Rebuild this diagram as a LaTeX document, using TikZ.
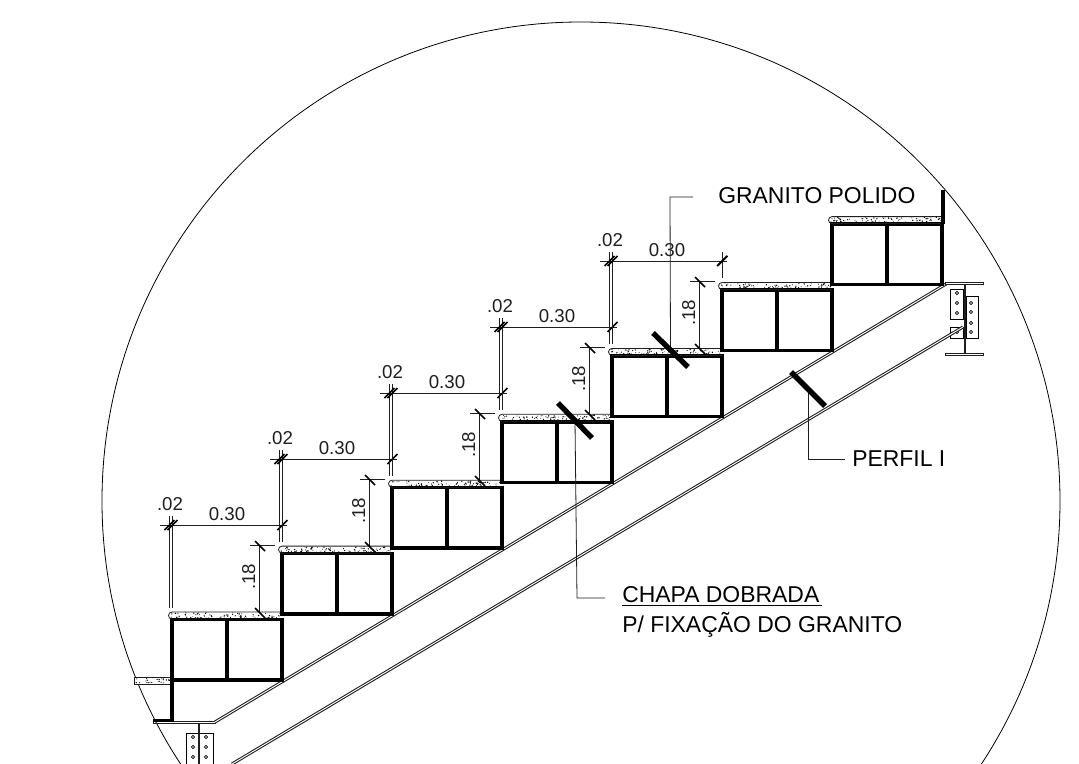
\documentclass[tikz,border=0pt]{standalone}
\usepackage{fontspec}
\usetikzlibrary{calc}
\setmainfont{Liberation Sans}
\definecolor{thinink}{gray}{0.12}
\tikzset{
  heavy/.style={line width=2.6pt,black},
  thinl/.style={line width=0.6pt,thinink},
  stringer/.style={line width=0.8pt,thinink,double=white,double distance=0.7pt},
  tick/.style={line width=1.1pt,black},
  slash/.style={line width=4pt,black},
  lbl/.style={font=\fontsize{17.2pt}{20pt}\selectfont,text=black,inner sep=0pt},
  dimlbl/.style={font=\fontsize{14pt}{16pt}\selectfont,text=thinink,inner sep=0pt},
  plate/.style={line width=0.7pt,black,fill=white},
  hole/.style={line width=0.5pt,black,fill=white}
}
\pgfmathsetseed{4711}
\begin{document}
\begin{tikzpicture}[x=0.75pt,y=-0.75pt]
\useasboundingbox (0,0) rectangle (1079,764);
\clip (0,0) rectangle (1079,764);
\fill[white] (0,0) rectangle (1079,764);

% detail circle
\coordinate (cc) at (581,501);
\draw[line width=0.6pt,black] (cc) circle [radius=479];

% stringer of the flight
\coordinate (ua) at (215,722);
\coordinate (ub) at (946,284);
\coordinate (la) at (232,764);
\coordinate (lb) at (963,327);

% lower I beam
\draw[plate] (186,733) rectangle (213,770);
\draw[thinl,line width=0.9pt] (199,723) -- (199,770);
\foreach \y in {737,747,757}{
  \draw[hole] (193,\y) circle [radius=1.6];
  \draw[hole] (206,\y) circle [radius=1.6];
}
\draw[thinl,line width=0.6pt] (153,721) rectangle (215,723);
\draw[stringer] (ua) -- (ub);

% upper I beam
\draw[plate] (950,289) rectangle (963,319);
\draw[plate] (950,327) rectangle (963,338);
\draw[plate] (966,296) rectangle (978,338);
\foreach \y in {293,303,313,332}{\draw[hole] (957,\y) circle [radius=1.6];}
\foreach \y in {303,312,323,332}{\draw[hole] (971,\y) circle [radius=1.6];}
\draw[stringer] (la) -- (lb);
\draw[thinl,line width=0.9pt] (965,284) -- (965,354);
\draw[thinl,fill=white] (945,282.5) rectangle (983,284.5);
\draw[thinl,fill=white] (945,353.5) rectangle (983,355.5);

% landing piece at the lower left
\draw[thinl,fill=white] (134,677.5) rectangle (172,684.5);
\foreach \i in {1,...,26}{
  \pgfmathsetmacro{\px}{136+rnd*34}
  \pgfmathsetmacro{\py}{678.5+rnd*4.5}
  \fill[black] (\px,\py) circle [radius=0.6];
}
\draw[heavy] (172,680) -- (172,721);
\draw[heavy] (153,720.5) -- (173,720.5);

% steps
\foreach \k in {0,...,6}{
  \pgfmathsetmacro{\xl}{172+110*\k}
  \pgfmathsetmacro{\xr}{\xl+110}
  \pgfmathsetmacro{\xm}{\xl+55}
  \pgfmathsetmacro{\yt}{619.5-65.9*\k}
  \pgfmathsetmacro{\yb}{\yt+60.5}
  \pgfmathsetmacro{\gt}{\yt-7.5}
  \pgfmathsetmacro{\gb}{\yt-0.5}
  \draw[heavy,line join=miter] (\xl,\yb) -- (\xl,\yt) -- (\xr,\yt) -- (\xr,\yb) -- cycle;
  \draw[heavy] (\xm,\yt) -- (\xm,\yb);
  \draw[thinl] (\xr,\gt) -- (\xl,\gt) arc[start angle=-90,end angle=-270,radius=3.5] -- (\xr,\gb);
  \foreach \i in {1,...,85}{
    \pgfmathsetmacro{\px}{\xl-1+rnd*110}
    \pgfmathsetmacro{\py}{\gt+0.8+rnd*5.4}
    \pgfmathsetmacro{\pr}{0.35+rnd*0.45}
    \fill[black] (\px,\py) circle [radius=\pr];
  }
}
\draw[heavy] (943,224) -- (943,190);

% dimensions, one set for each of the five lower steps
\foreach \k in {0,...,4}{
  \begin{scope}[shift={(110*\k,-66*\k)}]
    \draw[thinl] (169,516) -- (169,608);
    \draw[thinl] (172,516) -- (172,608);
    \draw[thinl] (160,525) -- (287,525);
    \draw[tick] (164.5,530) -- (174.5,520);
    \draw[tick] (167.5,530) -- (177.5,520);
    \draw[tick] (277.5,530) -- (287.5,520);
    \draw[thinl] (250,545) -- (275,545);
    \draw[thinl] (259.5,545) -- (259.5,612);
    \draw[tick] (255,541) -- (265,551);
    \draw[tick] (255,608) -- (265,618);
  \end{scope}
  \node[dimlbl,anchor=base] (dz\k) at (170+110*\k,510-66*\k) {.02};
  \node[dimlbl,anchor=base] (dt\k) at (227+110*\k,520-66*\k) {0.30};
  \node[dimlbl,anchor=base,rotate=90] (dh\k) at (255+110*\k,577-66*\k) {.18};
}
\draw[thinl] (722,252) -- (722,278);
\draw[tick] (717,266) -- (727,256);

% leaders and thick section marks
\coordinate (sa1) at (653,333); \coordinate (sa2) at (688,367);
\coordinate (sb1) at (558,403); \coordinate (sb2) at (592,438);
\coordinate (sc1) at (791,372); \coordinate (sc2) at (825,406);
\node[lbl,anchor=base west] (granito) at (718,203) {GRANITO POLIDO};
\node[lbl,anchor=base west] (perfil) at (852,466) {PERFIL I};
\node[lbl,anchor=base west] (chapa) at (622,602) {CHAPA DOBRADA};
\node[lbl,anchor=base west] (fixa) at (622,632) {P/ FIXAÇÃO DO GRANITO};
\draw[black,line width=0.6pt] (622,605.5) -- (822,605.5);
\coordinate (ga) at (693,197);
\coordinate (gb) at (670,197);
\coordinate (ca) at (605,598);
\coordinate (cb) at (577,598);
\coordinate (pa) at (845,459);
\coordinate (pb) at (808,459);
\draw[thinl] (ga) -- (gb) -- ($(sa1)!0.5!(sa2)$);
\draw[thinl] (ca) -- (cb) -- ($(sb1)!0.5!(sb2)$);
\draw[thinl] (pa) -- (pb) -- ($(sc1)!0.5!(sc2)$);
\draw[slash] (sa1) -- (sa2);
\draw[slash] (sb1) -- (sb2);
\draw[slash] (sc1) -- (sc2);
\end{tikzpicture}
\end{document}
